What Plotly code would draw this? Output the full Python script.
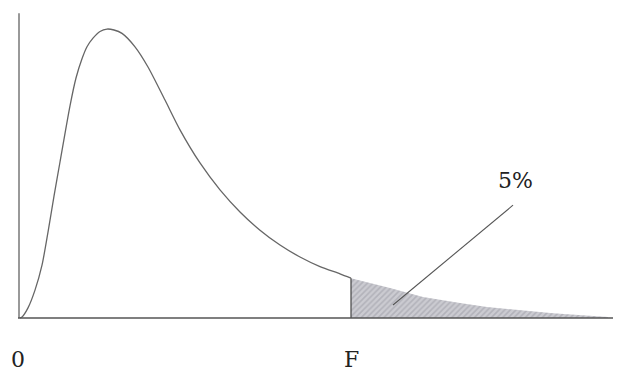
import plotly.graph_objects as go

# F-distribution density curve (schematic)
curve_x = [0.0, 0.02, 0.08, 0.15, 0.22, 0.28, 0.34, 0.40, 0.50, 0.56, 0.62, 0.67,
           0.73, 0.80, 0.87, 0.94, 1.02, 1.15, 1.28, 1.45, 1.60, 1.80, 2.00, 2.20,
           2.40, 2.60, 2.80, 3.00, 3.20, 3.31]
curve_y = [0.0, 0.002, 0.021, 0.058, 0.110, 0.179, 0.254, 0.325, 0.442, 0.500,
           0.540, 0.565, 0.583, 0.597, 0.602, 0.600, 0.593, 0.565, 0.523, 0.454,
           0.392, 0.323, 0.267, 0.221, 0.183, 0.152, 0.127, 0.107, 0.092, 0.083]
# upper 5% tail beyond F
tail_x = [3.31, 3.70, 4.03, 4.40, 4.67, 5.33, 5.88]
tail_y = [0.083, 0.0625, 0.044, 0.031, 0.023, 0.010, 0.002]

f_crit = 3.31
label_pct = "5%"
label_zero = "0"
label_f = "F"

fig = go.Figure()

# shaded tail (5%)
fig.add_trace(go.Scatter(
    x=[tail_x[0]] + tail_x + [tail_x[-1]],
    y=[0] + tail_y + [0],
    mode="lines", fill="toself",
    fillcolor="#c6c6cd",
    fillpattern=dict(shape="/", fgcolor="#9a9aa3", bgcolor="#cbcbd1",
                     size=4, solidity=0.4),
    line=dict(width=0), hoverinfo="skip", showlegend=False))

# curve up to F
fig.add_trace(go.Scatter(x=curve_x, y=curve_y, mode="lines",
                         line=dict(color="#666666", width=1.3, shape="spline",
                                   smoothing=0.7),
                         showlegend=False))

# vertical line at F
fig.add_trace(go.Scatter(x=[f_crit, f_crit], y=[0, curve_y[-1]], mode="lines",
                         line=dict(color="#444444", width=1.2), showlegend=False))

# axes lines
fig.add_trace(go.Scatter(x=[-0.02, 5.93], y=[0, 0], mode="lines",
                         line=dict(color="#555555", width=1.3), showlegend=False))
fig.add_trace(go.Scatter(x=[-0.01, -0.01], y=[0, 0.635], mode="lines",
                         line=dict(color="#555555", width=1.2), showlegend=False))

# pointer line for 5%
fig.add_trace(go.Scatter(x=[3.73, 4.93], y=[0.027, 0.235], mode="lines",
                         line=dict(color="#555555", width=1.1), showlegend=False))

font = dict(family="DejaVu Serif", size=22, color="#222222")
fig.add_annotation(x=4.95, y=0.287, text=label_pct, showarrow=False, font=font,
                   xanchor="center", yanchor="middle")
fig.add_annotation(x=-0.02, y=-0.087, text=label_zero, showarrow=False, font=font,
                   xanchor="center", yanchor="middle")
fig.add_annotation(x=f_crit, y=-0.087, text=label_f, showarrow=False, font=font,
                   xanchor="center", yanchor="middle")

fig.update_layout(
    width=627, height=371, autosize=False,
    margin=dict(l=0, r=0, t=0, b=0),
    paper_bgcolor="white", plot_bgcolor="white",
    xaxis=dict(range=[-0.20, 6.07], visible=False, fixedrange=True),
    yaxis=dict(range=[(318 - 371) / 480, 318 / 480], visible=False, fixedrange=True),
)

fig.write_html("out.html", config={"displayModeBar": False},
               post_script="document.body.style.margin='0';"
                           "document.body.style.overflow='hidden';")
